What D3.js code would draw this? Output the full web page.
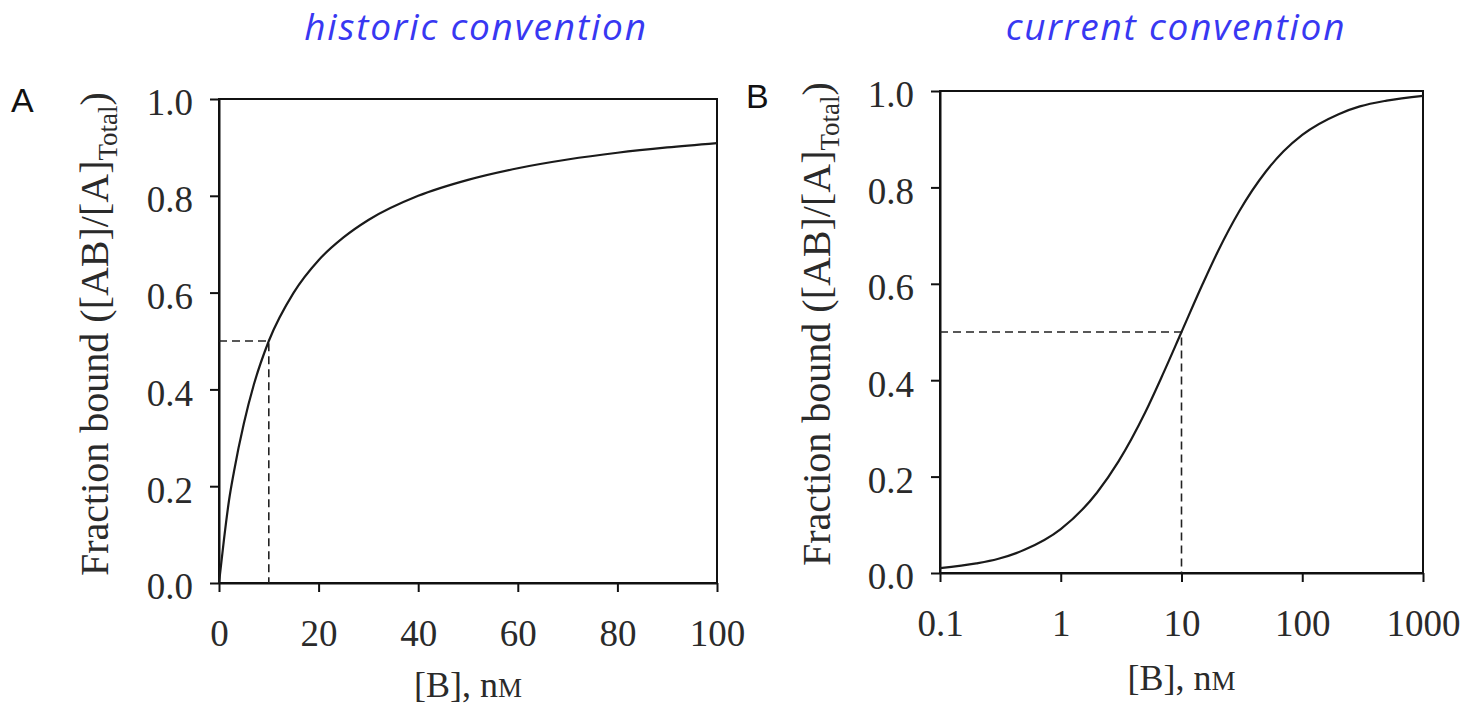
<!DOCTYPE html>
<html lang="en">
  <head>
    <meta charset="UTF-8"/>
    <title>Fraction bound</title>
    <script src="https://d3js.org/d3.v7.min.js"></script>
    <style>
        body {
          margin: 0;
          background: #fff;
        }
        .axis line,
        .axis path {
          fill: none;
          stroke: #111;
          stroke-width: 2px;
        }
        .axis text {
          font-family: "Liberation Serif", "Times New Roman", serif;
          font-size: 37px;
          fill: #2a2a2a;
        }
        .frame {
          fill: none;
          stroke: #111;
          stroke-width: 2px;
        }
        .curve {
          fill: none;
          stroke: #1a1a1a;
          stroke-width: 2.2px;
        }
        .guide {
          fill: none;
          stroke: #222;
          stroke-width: 1.6px;
          stroke-dasharray: 8, 5;
        }
        .label {
          font-family: "Liberation Serif", "Times New Roman", serif;
          font-size: 36px;
          fill: #2a2a2a;
        }
        .ylabel {
          font-size: 40px;
        }
        .panel {
          font-family: "Liberation Sans", Arial, sans-serif;
          font-size: 34px;
          fill: #111;
        }
        .title {
          font-family: "Open Sans", Lato, sans-serif;
          font-style: italic;
          font-size: 37px;
          letter-spacing: 1.8px;
          fill: #3838f2;
        }
    </style>
  </head>
  <body>
    <script>
        // Panel A: linear [B] axis
        const linX = [0, 1, 2, 3, 5, 7, 10, 15, 20, 25, 30, 40, 50, 60, 70, 80, 90, 100]
        const linY = [0, 0.09, 0.17, 0.23, 0.33, 0.41, 0.5, 0.6, 0.667, 0.714, 0.75, 0.8, 0.833, 0.857, 0.875, 0.889, 0.9, 0.909]

        // Panel B: log [B] axis
        const logX = [0.1, 0.2, 0.3, 0.5, 1, 2, 3, 5, 7, 10, 15, 20, 30, 50, 70, 100, 200, 300, 500, 1000]
        const logY = [0.01, 0.02, 0.029, 0.048, 0.091, 0.167, 0.231, 0.333, 0.412, 0.5, 0.6, 0.667, 0.75, 0.833, 0.875, 0.909, 0.952, 0.968, 0.98, 0.99]

        const yTicks = [0, 0.2, 0.4, 0.6, 0.8, 1.0]
        const linTicks = [0, 20, 40, 60, 80, 100]
        const logTicks = [0.1, 1, 10, 100, 1000]
        const kd = 10, halfBound = 0.5

        const titles = ["historic convention", "current convention"]

        const svg = d3.select("body").append("svg")
            .attr("width", 1473)
            .attr("height", 709)

        const panels = [
          {
            name: "A", title: titles[0], titleX: 476, nameX: 11, nameY: 112,
            x: d3.scaleLinear().domain([0, 100]).range([219, 717]),
            y: d3.scaleLinear().domain([0, 1]).range([583, 99]),
            xs: linX, ys: linY, ticks: linTicks, fmt: d3.format("d"),
            labelX: 108, labelY: 334
          },
          {
            name: "B", title: titles[1], titleX: 1176, nameX: 746, nameY: 108,
            x: d3.scaleLog().domain([0.1, 1000]).range([940, 1423]),
            y: d3.scaleLinear().domain([0, 1]).range([573, 91]),
            xs: logX, ys: logY, ticks: logTicks, fmt: d => String(d),
            labelX: 830, labelY: 324
          }
        ]

        panels.forEach(p => {
          const g = svg.append("g")
          const [x0, x1] = p.x.range()
          const [y0, y1] = p.y.range()

          // title above each panel
          svg.append("text")
              .attr("class", "title")
              .attr("x", p.titleX)
              .attr("y", 40)
              .attr("text-anchor", "middle")
              .text(p.title)

          svg.append("text")
              .attr("class", "panel")
              .attr("x", p.nameX)
              .attr("y", p.nameY)
              .text(p.name)

          // frame
          g.append("rect")
              .attr("class", "frame")
              .attr("x", x0)
              .attr("y", y1)
              .attr("width", x1 - x0)
              .attr("height", y0 - y1)

          const yAxis = g.append("g")
              .attr("class", "axis")
              .attr("transform", `translate(${x0},0)`)
              .call(d3.axisLeft(p.y).tickValues(yTicks).tickFormat(d3.format(".1f")).tickSize(9).tickSizeOuter(0))
          yAxis.selectAll("text").attr("x", -26).attr("dy", "0.43em")

          const xAxis = g.append("g")
              .attr("class", "axis")
              .attr("transform", `translate(0,${y0})`)
              .call(d3.axisBottom(p.x).tickValues(p.ticks).tickFormat(p.fmt).tickSize(9).tickSizeOuter(0))
          xAxis.selectAll("text").attr("y", 63).attr("dy", 0)

          // dashed guide at half saturation
          g.append("path")
              .attr("class", "guide")
              .attr("d", d3.line()([
                [p.x(p.x.domain()[0]), p.y(halfBound)],
                [p.x(kd), p.y(halfBound)],
                [p.x(kd), p.y(0)]
              ]))

          const pts = p.xs.map((d, i) => [d, p.ys[i]])
          g.append("path")
              .attr("class", "curve")
              .attr("d", d3.line()
                  .x(d => p.x(d[0]))
                  .y(d => p.y(d[1]))
                  .curve(d3.curveMonotoneX)(pts))

          // y label with subscript
          const yl = svg.append("text")
              .attr("class", "label ylabel")
              .attr("transform", `translate(${p.labelX},${p.labelY}) rotate(-90)`)
              .attr("text-anchor", "middle")
          yl.append("tspan").text("Fraction bound ([AB]/[A]")
          yl.append("tspan").attr("dy", 9).style("font-size", "27px").text("Total")
          yl.append("tspan").attr("dy", -9).text(")")

          // x label with small-cap M
          const xl = svg.append("text")
              .attr("class", "label")
              .attr("x", (x0 + x1) / 2)
              .attr("y", p.name === "A" ? 697 : 690)
              .attr("text-anchor", "middle")
          xl.append("tspan").text("[B], n")
          xl.append("tspan").style("font-size", "27px").text("M")
        })
    </script>
  </body>
</html>
